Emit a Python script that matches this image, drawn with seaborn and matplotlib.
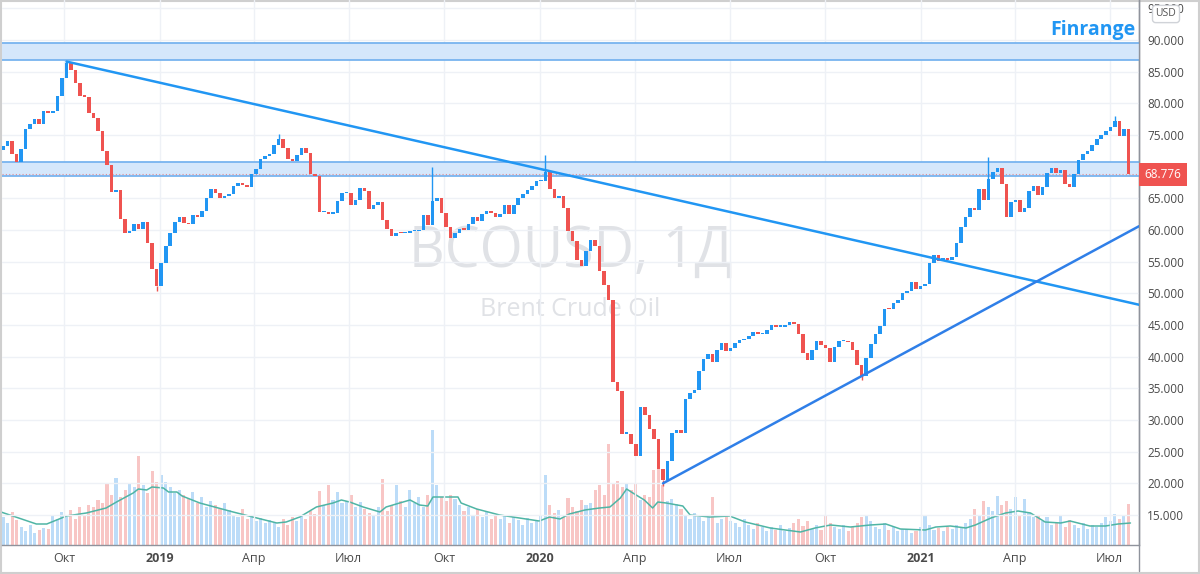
import numpy as np
import pandas as pd
import matplotlib
matplotlib.use("Agg")
import matplotlib.pyplot as plt
import matplotlib.transforms as mtransforms
from matplotlib.lines import Line2D
from matplotlib.patches import Rectangle
import seaborn as sns

# ---------------- data ----------------
closes = [
    73.3, 74.0, 72.0, 70.8, 72.8, 75.9, 76.8, 77.5, 76.8, 78.8,
    78.5, 78.8, 81.2, 84.0, 86.3, 85.2, 83.2, 81.2, 81.0, 78.5,
    77.7, 75.6, 72.5, 70.2, 66.0, 66.3, 61.8, 59.5, 59.8, 61.0,
    60.1, 61.3, 58.0, 53.8, 51.2, 54.8, 57.5, 59.5, 61.2, 62.0,
    61.1, 60.9, 62.4, 62.1, 63.0, 65.0, 66.5, 65.8, 65.1, 65.3,
    65.7, 67.0, 67.4, 67.1, 66.8, 68.8, 69.7, 71.2, 71.7, 72.0,
    73.5, 74.4, 72.9, 71.2, 70.9, 71.8, 72.9, 72.1, 68.8, 68.5,
    62.8, 62.9, 62.6, 62.7, 64.6, 65.8, 65.9, 64.0, 64.7, 66.7,
    66.2, 63.3, 64.0, 64.5, 61.6, 60.1, 59.0, 59.6, 59.5, 59.6,
    59.8, 59.8, 60.0, 62.3, 60.8, 64.6, 65.0, 62.7, 60.5, 58.8,
    59.5, 60.2, 60.0, 61.0, 62.0, 61.4, 62.5, 63.0, 62.7, 62.0,
    62.5, 63.9, 62.5, 64.0, 65.0, 65.7, 66.3, 67.0, 67.7, 67.8,
    69.2, 66.4, 65.0, 65.3, 63.5, 59.8, 58.3, 55.3, 54.3, 56.7,
    58.5, 57.5, 53.5, 51.3, 49.0, 36.0, 34.5, 27.8, 27.8, 26.2,
    24.3, 32.0, 30.8, 28.6, 27.0, 22.2, 20.5, 23.6, 28.0, 28.4,
    28.0, 33.3, 34.3, 34.7, 37.8, 39.7, 40.4, 39.2, 41.0, 42.1,
    40.9, 41.4, 42.2, 42.6, 42.8, 43.2, 43.9, 43.5, 43.6, 44.2,
    45.0, 44.7, 44.7, 45.0, 45.5, 45.1, 43.6, 40.6, 39.5, 41.0,
    42.5, 41.8, 41.3, 39.2, 41.5, 42.4, 42.5, 42.3, 41.0, 38.7,
    37.0, 39.8, 42.0, 43.6, 44.8, 47.6, 47.5, 48.5, 48.9, 50.0,
    50.4, 51.8, 50.7, 51.2, 51.5, 54.8, 56.0, 55.1, 55.6, 55.3,
    55.8, 57.9, 60.5, 62.0, 63.5, 63.2, 66.5, 64.8, 68.0, 69.1,
    69.8, 67.3, 62.0, 64.4, 64.8, 62.9, 63.4, 66.2, 67.0, 65.6,
    66.8, 69.0, 69.8, 69.0, 69.5, 67.3, 66.8, 68.9, 71.1, 72.0,
    72.5, 73.4, 74.3, 75.0, 75.6, 76.2, 77.2, 74.9, 76.0, 68.776,
]
first_open = 72.6

volumes = [
    28, 22, 33, 25, 18, 14, 20, 12, 15, 17,
    16, 30, 26, 33, 28, 35, 26, 38, 30, 40,
    38, 45, 42, 62, 50, 67, 48, 55, 62, 58,
    89, 60, 52, 74, 63, 70, 63, 58, 52, 55,
    50, 46, 53, 42, 48, 38, 44, 40, 36, 42,
    35, 30, 28, 36, 26, 30, 24, 27, 22, 25,
    22, 18, 26, 20, 28, 24, 30, 26, 34, 31,
    54, 40, 60, 45, 53, 42, 44, 50, 38, 43,
    36, 32, 30, 38, 66, 34, 40, 60, 44, 38,
    55, 42, 48, 38, 50, 115, 60, 48, 44, 50,
    46, 40, 34, 38, 30, 36, 28, 33, 26, 30,
    26, 30, 22, 28, 25, 20, 27, 22, 24, 30,
    70, 40, 32, 35, 28, 47, 38, 34, 45, 40,
    42, 55, 60, 50, 101, 62, 64, 58, 62, 55,
    62, 45, 50, 48, 75, 87, 60, 44, 46, 41,
    36, 30, 26, 32, 28, 24, 30, 48, 22, 26,
    30, 24, 22, 18, 26, 20, 16, 22, 18, 14,
    18, 15, 20, 14, 17, 22, 26, 19, 24, 16,
    20, 15, 29, 22, 18, 16, 20, 14, 18, 22,
    28, 29, 24, 18, 16, 22, 15, 18, 14, 16,
    16, 12, 14, 18, 29, 20, 15, 17, 14, 18,
    16, 20, 17, 22, 26, 36, 30, 44, 38, 34,
    49, 40, 44, 36, 48, 30, 46, 32, 28, 30,
    24, 28, 20, 22, 30, 18, 25, 20, 17, 22,
    16, 20, 18, 22, 28, 24, 31, 26, 30, 41,
]

wick_idx = [14, 34, 61, 95, 120, 146, 190, 218, 246]
wick_ext = [86.7, 50.3, 75.2, 70.0, 71.8, 19.6, 36.3, 71.6, 78.0]

ma_dates = [
    "2018-08-01", "2018-09-04", "2018-09-14", "2018-10-03", "2018-10-22",
    "2018-11-10", "2018-11-20", "2018-12-06", "2018-12-11", "2018-12-19",
    "2018-12-24", "2019-01-04", "2019-01-09", "2019-01-17", "2019-01-22",
    "2019-02-08", "2019-03-12", "2019-03-31", "2019-04-23", "2019-05-02",
    "2019-05-15", "2019-05-31", "2019-06-16", "2019-06-24", "2019-07-02",
    "2019-07-15", "2019-07-31", "2019-08-06", "2019-08-19", "2019-08-29",
    "2019-09-07", "2019-09-15", "2019-09-20", "2019-10-14", "2019-10-17",
    "2019-11-01", "2019-11-23", "2019-12-12", "2019-12-31", "2020-01-10",
    "2020-01-20", "2020-01-29", "2020-02-13", "2020-02-27", "2020-03-08",
    "2020-03-18", "2020-03-24", "2020-03-30", "2020-04-10", "2020-04-18",
    "2020-04-23", "2020-05-01", "2020-05-17", "2020-05-24", "2020-06-12",
    "2020-07-01", "2020-07-16", "2020-08-09", "2020-09-07", "2020-09-21",
    "2020-10-06", "2020-10-25", "2020-11-13", "2020-11-28", "2020-12-12",
    "2021-01-05", "2021-01-15", "2021-01-29", "2021-02-13", "2021-02-22",
    "2021-03-09", "2021-03-23", "2021-04-04", "2021-04-16", "2021-04-30",
    "2021-05-15", "2021-05-24", "2021-06-12", "2021-06-27", "2021-07-09",
    "2021-07-21",
]
ma_values = [
    33, 21, 21, 29, 32,
    37, 43, 52, 56, 55,
    58, 57, 53, 53, 49,
    42, 33, 28, 22, 23,
    28, 38, 42, 45, 43,
    38, 33, 38, 42, 45,
    40, 39, 48, 48, 42,
    36, 30, 27, 24, 28,
    26, 31, 35, 37, 38,
    47, 56, 52, 45, 37,
    43, 42, 39, 30, 28,
    29, 23, 17, 13, 17,
    20, 18, 20, 21, 16,
    15, 18, 19, 17, 20,
    27, 32, 34, 32, 23,
    22, 24, 19, 19, 21,
    22,
]

zone_upper = (86.84, 89.48)
zone_lower = (68.45, 70.80)
last_price = 68.776
trend_down_dates = ["2018-10-03 00:00", "2021-07-29 05:00"]
trend_down_vals = [86.6, 48.2]
trend_up_dates = ["2020-04-28 00:00", "2021-07-29 05:00"]
trend_up_vals = [20.0, 60.6]

price_ticks = list(range(15, 100, 5))
x_tick_dates = ["2018-10-01", "2019-01-01", "2019-04-01", "2019-07-01",
                "2019-10-01", "2020-01-01", "2020-04-01", "2020-07-01",
                "2020-10-01", "2021-01-01", "2021-04-01", "2021-07-01"]
x_tick_labels = ["Окт", "2019", "Апр", "Июл", "Окт", "2020", "Апр", "Июл",
                 "Окт", "2021", "Апр", "Июл"]

# ---------------- styling ----------------
sns.set_theme(style="white")
plt.rcParams["font.family"] = ["Open Sans", "DejaVu Sans"]

UP = "#2196f3"
DOWN = "#ef5350"
VOL_UP = "#bcdcf8"
VOL_DOWN = "#f8c6c5"
TXT = "#4a4a4a"

dates = pd.date_range("2018-08-03", "2021-07-19", periods=len(closes))
df = pd.DataFrame({"date": dates, "close": closes, "volume": volumes})
df["open"] = [first_open] + closes[:-1]
up = (df["close"] >= df["open"]).to_numpy()

fig = plt.figure(figsize=(12, 5.74), dpi=100, facecolor="white")
ax = fig.add_axes([2 / 1200, 29 / 574, 1137 / 1200, 545 / 574])
axv = ax.twinx()
ax.set_zorder(2)
axv.set_zorder(1)
ax.patch.set_visible(False)

# volume pane
axv.bar(df["date"], df["volume"], width=3.0,
        color=np.where(up, VOL_UP, VOL_DOWN), linewidth=0)
sns.lineplot(x=pd.to_datetime(ma_dates), y=ma_values, ax=axv,
             color="#4fb5a5", lw=1.1)
axv.set_ylim(0, 545)
axv.axis("off")

# zones
for lo, hi in (zone_upper, zone_lower):
    ax.axhspan(lo, hi, facecolor="#d5e7fb", edgecolor="none", zorder=1)
    ax.axhline(lo, color="#78b4ef", lw=1.3, zorder=1.5)
    ax.axhline(hi, color="#78b4ef", lw=1.3, zorder=1.5)

ax.axhline(last_price, color=DOWN, lw=0.8, ls=(0, (1, 2)), alpha=0.6, zorder=1.6)

# watermark
ax.text(0.5, 0.51, "BCOUSD, 1Д", transform=ax.transAxes, ha="center",
        va="baseline", fontsize=40, color="#e0e2e6", zorder=0.5)
ax.text(0.5, 0.42, "Brent Crude Oil", transform=ax.transAxes, ha="center",
        va="baseline", fontsize=18, color="#e0e2e6", zorder=0.5)

# candles
body_lo = np.minimum(df["open"], df["close"])
body_h = np.maximum(np.abs(df["close"] - df["open"]), 0.25)
ccol = np.where(up, UP, DOWN)
ax.bar(df["date"], body_h, bottom=body_lo, width=3.4, color=ccol,
       linewidth=0, zorder=3)
for i, ext in zip(wick_idx, wick_ext):
    o, c = df["open"][i], df["close"][i]
    base = max(o, c) if ext > c else min(o, c)
    ax.vlines(df["date"][i], base, ext, color=ccol[i], lw=1, zorder=3)

# trend lines
sns.lineplot(x=pd.to_datetime(trend_down_dates), y=trend_down_vals, ax=ax,
             color="#2196f3", lw=1.8, zorder=4)
sns.lineplot(x=pd.to_datetime(trend_up_dates), y=trend_up_vals, ax=ax,
             color="#2f7fe8", lw=1.8, zorder=4)

# axes
ax.set_xlim(pd.Timestamp("2018-08-02"), pd.Timestamp("2021-07-29 05:00"))
ax.set_ylim(10.26, 96.32)
ax.set_xlabel("")
ax.set_ylabel("")
ax.yaxis.tick_right()
ax.set_yticks(price_ticks)
ax.set_yticklabels([f"{v:.3f}" for v in price_ticks])
ax.set_xticks(pd.to_datetime(x_tick_dates))
ax.set_xticklabels(x_tick_labels)
for lab in ax.get_xticklabels():
    if lab.get_text().isdigit():
        lab.set_fontweight("bold")
ax.tick_params(axis="y", length=0, pad=6, labelsize=8.5, labelcolor=TXT)
ax.tick_params(axis="x", length=0, pad=5, labelsize=9, labelcolor=TXT)
ax.grid(True, color="#eef1f6", lw=1)
ax.set_axisbelow(True)
for s in ("top", "left"):
    ax.spines[s].set_visible(False)
for s in ("right", "bottom"):
    ax.spines[s].set_color("#8f939c")
    ax.spines[s].set_linewidth(1)

# last price label
blend = mtransforms.blended_transform_factory(ax.transAxes, ax.transData)
ax.text(1.0 + 5.5 / 1137, last_price, f"{last_price:.3f}", transform=blend,
        ha="left", va="center", color="white", fontsize=8.5,
        bbox=dict(boxstyle="square,pad=0.45", fc=DOWN, ec="none"),
        clip_on=False, zorder=10)

# decorations
fig.text(1135 / 1200, 1 - 35 / 574, "Finrange", ha="right", va="baseline",
         fontsize=14, fontweight="bold", color="#2196f3")
fig.text(1166 / 1200, 1 - 14 / 574, "USD", ha="center", va="center",
         fontsize=7.5, color="#555555", zorder=20,
         bbox=dict(boxstyle="round,pad=0.3", fc="white", ec="#d0d3d8"))
fig.add_artist(Line2D([1139 / 1200, 1139 / 1200], [0.005, 1.0],
                      transform=fig.transFigure, color="#8f939c", lw=1))
fig.add_artist(Rectangle((0.001, 0.002), 0.998, 0.996, transform=fig.transFigure,
                         fill=False, ec="#cfcfcf", lw=1.5))

fig.savefig("out.png", dpi=100, facecolor="white")
